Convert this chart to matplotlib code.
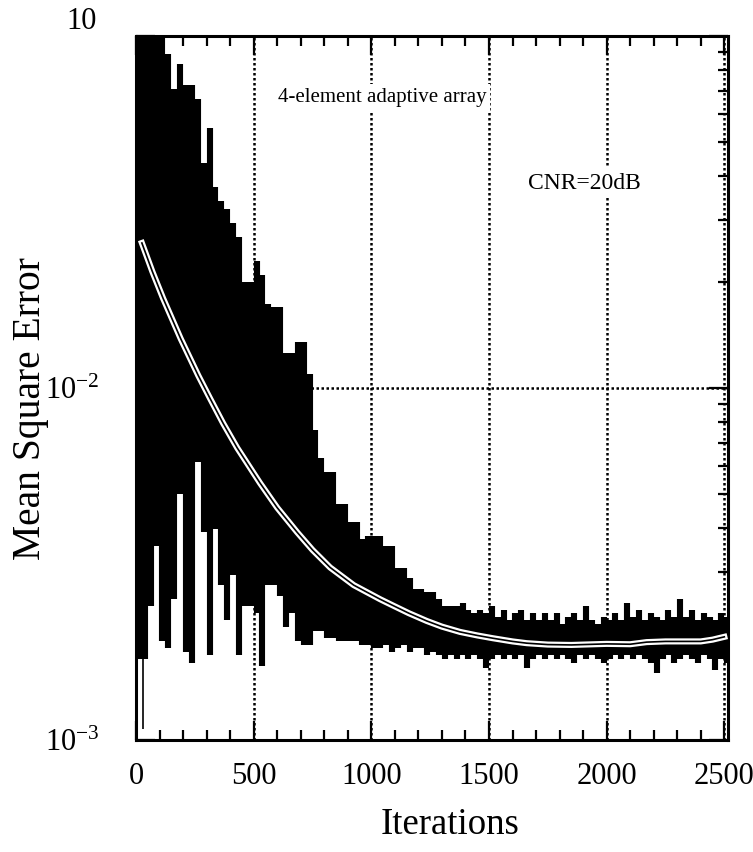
import numpy as np
import matplotlib.pyplot as plt
from matplotlib.ticker import FixedLocator, LogLocator, NullFormatter

plt.rcParams['font.family'] = ['Liberation Serif', 'DejaVu Serif']
plt.rcParams['mathtext.fontset'] = 'custom'
plt.rcParams['mathtext.rm'] = 'Liberation Serif'

# noisy MSE in 25-iteration bins (log10 of upper / lower extent)
bin_iter = np.arange(101) * 25 + 12.5
hi_log = [-0.9, -0.9, -0.9, -0.9, -1.0, -1.05, -1.15, -1.08, -1.14, -1.14,
          -1.18, -1.36, -1.26, -1.43, -1.47, -1.49, -1.53, -1.57, -1.70, -1.70,
          -1.64, -1.68, -1.76, -1.77, -1.77, -1.90, -1.90, -1.87, -1.87, -1.96,
          -2.12, -2.20, -2.24, -2.24, -2.33, -2.33, -2.38, -2.38, -2.43, -2.42,
          -2.42, -2.42, -2.45, -2.45, -2.51, -2.51, -2.54, -2.57, -2.57, -2.58,
          -2.58, -2.60, -2.62, -2.62, -2.62, -2.61, -2.63, -2.64, -2.63, -2.64,
          -2.62, -2.65, -2.63, -2.66, -2.64, -2.63, -2.66, -2.64, -2.66, -2.64,
          -2.66, -2.64, -2.67, -2.65, -2.64, -2.66, -2.62, -2.66, -2.67, -2.65,
          -2.66, -2.64, -2.66, -2.61, -2.65, -2.63, -2.66, -2.64, -2.65, -2.66,
          -2.63, -2.65, -2.60, -2.65, -2.63, -2.66, -2.64, -2.65, -2.66, -2.64,
          -2.65]
lo_log = [-2.77, -2.77, -2.62, -2.45, -2.72, -2.74, -2.60, -2.30, -2.75, -2.78,
          -2.21, -2.41, -2.76, -2.40, -2.56, -2.66, -2.53, -2.76, -2.62, -2.62,
          -2.64, -2.79, -2.56, -2.56, -2.59, -2.68, -2.64, -2.72, -2.73, -2.73,
          -2.69, -2.69, -2.71, -2.71, -2.72, -2.72, -2.72, -2.72, -2.73, -2.73,
          -2.74, -2.74, -2.73, -2.75, -2.74, -2.73, -2.75, -2.74, -2.74, -2.76,
          -2.75, -2.76, -2.77, -2.76, -2.77, -2.76, -2.77, -2.76, -2.77, -2.795,
          -2.77, -2.76, -2.77, -2.76, -2.77, -2.76, -2.795, -2.77, -2.76, -2.77,
          -2.76, -2.77, -2.76, -2.77, -2.78, -2.76, -2.77, -2.76, -2.77, -2.78,
          -2.77, -2.76, -2.77, -2.76, -2.77, -2.76, -2.77, -2.78, -2.81, -2.77,
          -2.76, -2.78, -2.77, -2.76, -2.77, -2.78, -2.76, -2.77, -2.80, -2.77,
          -2.78]

# single thin spikes
spike_iter = [28]
spike_lo_log = [-2.97]

# averaged learning curve (white line)
avg_iter = [25, 70, 115, 190, 265, 315, 370, 430, 527, 600, 685, 750, 825,
            925, 1037, 1092, 1160, 1236, 1300, 1377, 1450, 1517, 1600, 1660,
            1750, 1850, 2000, 2100, 2170, 2250, 2400, 2450, 2500]
avg_log = [-1.588, -1.67, -1.745, -1.86, -1.965, -2.03, -2.10, -2.17, -2.27,
           -2.34, -2.41, -2.46, -2.51, -2.56, -2.60, -2.618, -2.64, -2.662,
           -2.678, -2.693, -2.703, -2.711, -2.72, -2.725, -2.729, -2.73,
           -2.727, -2.728, -2.722, -2.72, -2.72, -2.715, -2.707]

hi = 10 ** np.array(hi_log)
lo = 10 ** np.array(lo_log)
avg = 10 ** np.array(avg_log)

fig = plt.figure(figsize=(7.53, 8.52), dpi=100)
ax = fig.add_axes([0.1806, 0.1315, 0.786, 0.8262])

ax.vlines(bin_iter, lo, hi, color='black', lw=4.4, zorder=2)
ax.vlines(spike_iter, 10 ** np.array(spike_lo_log), 1e-2, color='black', lw=1.2, zorder=2)
# white double line with a dark core
ax.plot(avg_iter, avg, color='white', lw=4.4, zorder=3, solid_joinstyle='round')
ax.plot(avg_iter, avg, color='black', lw=1.2, zorder=4, solid_joinstyle='round')

ax.set_yscale('log')
ax.set_xlim(0, 2515)
ax.set_ylim(1e-3, 1e-1)

ax.xaxis.set_major_locator(FixedLocator([0, 500, 1000, 1500, 2000, 2500]))
ax.xaxis.set_minor_locator(FixedLocator(np.arange(0, 2600, 100)))
ax.set_xticklabels(['0', '500', '1000', '1500', '2000', '2500'])
ax.yaxis.set_major_locator(FixedLocator([1e-3, 1e-2, 1e-1]))
ax.yaxis.set_minor_locator(LogLocator(base=10, subs=np.arange(2, 10)))
ax.yaxis.set_minor_formatter(NullFormatter())
ax.set_yticklabels([r'$\mathregular{10^{-3}}$', r'$\mathregular{10^{-2}}$', ''])
# top label sits a little above its tick in the original
ax.text(-0.066, 1.02, '10', transform=ax.transAxes, ha='right', va='center', fontsize=22)

ax.tick_params(which='both', direction='in', top=True, right=True,
               labelsize=22, width=1.6, color='black')
ax.tick_params(which='major', length=14)
ax.tick_params(which='minor', length=7)
ax.tick_params(axis='x', which='major', pad=16)
ax.tick_params(axis='y', which='major', pad=26)
for s in ax.spines.values():
    s.set_linewidth(2.2)

ax.grid(True, which='major', color='black', linestyle=(0, (1, 1)), lw=1.8)
ax.set_axisbelow(True)

ax.text(1045, 0.067, '4-element adaptive array', ha='center', va='center',
        fontsize=15, bbox=dict(facecolor='white', edgecolor='none', pad=3), zorder=5)
ax.text(1906, 0.0382, 'CNR=20dB', ha='center', va='center',
        fontsize=17, bbox=dict(facecolor='white', edgecolor='none', pad=3), zorder=5)

fig.text(0.04, 0.52, 'Mean Square Error', rotation=90, ha='center', va='center', fontsize=28.5)
fig.text(0.598, 0.032, 'Iterations', ha='center', va='center', fontsize=26.5)

fig.savefig('out.png', dpi=100)
